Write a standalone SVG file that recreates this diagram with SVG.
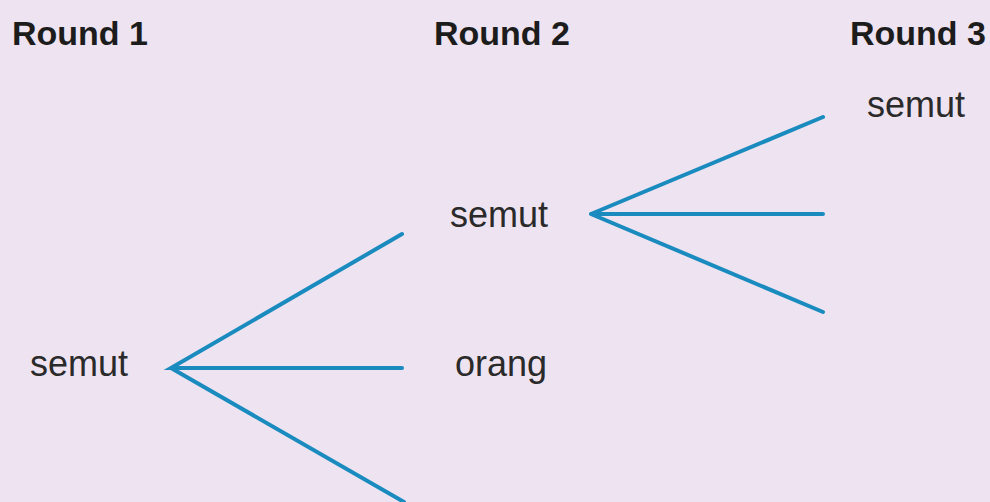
<svg xmlns="http://www.w3.org/2000/svg" width="990" height="502" viewBox="0 0 990 502">
  <style>
    .bg { fill: #eee3f0; }
    .head { font-family: "Liberation Sans", Arial, sans-serif; font-weight: bold; font-size: 34px; fill: #1c1c1c; }
    .word { font-family: "Liberation Sans", Arial, sans-serif; font-size: 36px; fill: #2a2a2a; }
    .edge { stroke: #1a8bbf; stroke-width: 4; stroke-linecap: round; fill: none; }
  </style>
  <rect class="bg" x="0" y="0" width="990" height="502"/>

  <!-- column headings -->
  <g id="round1"><text class="head" x="12" y="45">Round 1</text></g>
  <g id="round2"><text class="head" x="434" y="45">Round 2</text></g>
  <g id="round3"><text class="head" x="850" y="45">Round 3</text></g>

  <!-- word nodes -->
  <g id="r1-semut"><text class="word" x="30" y="376">semut</text></g>
  <g id="r2-semut"><text class="word" x="450" y="227">semut</text></g>
  <g id="r2-orang"><text class="word" x="455" y="376">orang</text></g>
  <g id="r3-semut"><text class="word" x="867" y="117">semut</text></g>

  <!-- branches -->
  <g id="connectors">
    <path class="edge" d="M402 234 L171 368 L402 368 M171 368 L404 502"/>
    <path class="edge" d="M823 117 L591 214 L823 214 M591 214 L823 312"/>
  </g>
</svg>
